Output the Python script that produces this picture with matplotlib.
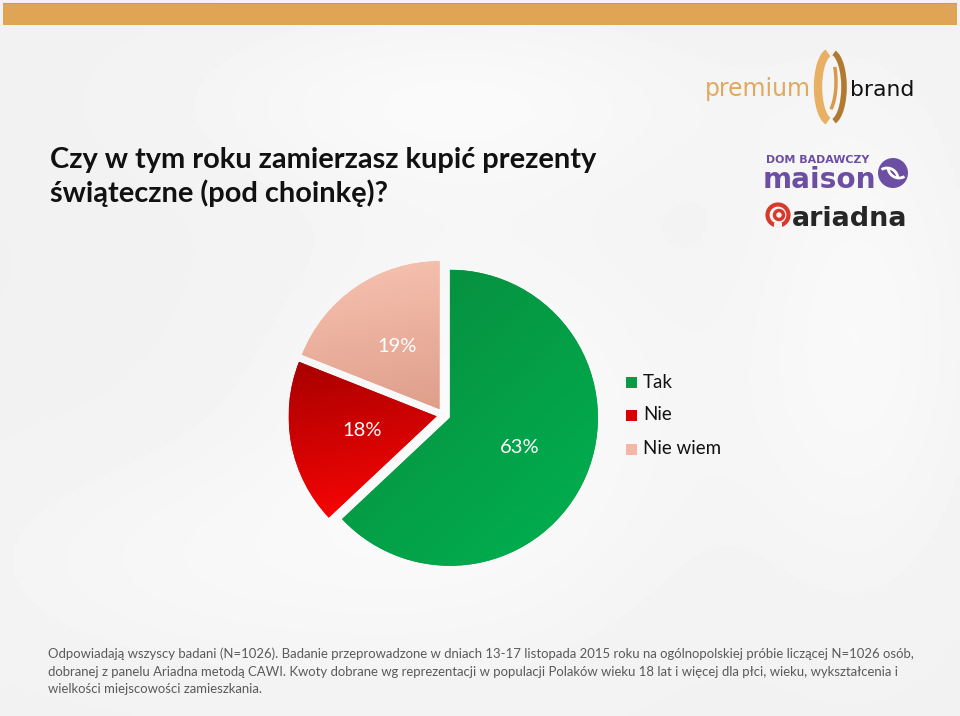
import matplotlib
matplotlib.use('Agg')
import matplotlib.pyplot as plt
import numpy as np
from matplotlib.patches import Rectangle, Circle, Arc
from matplotlib.colors import LinearSegmentedColormap

# ---------------- data ----------------
categories = ['Tak', 'Nie', 'Nie wiem']
values = [63, 18, 19]
title_lines = ['Czy w tym roku zamierzasz kupić prezenty',
               'świąteczne (pod choinkę)?']
footnote_lines = [
    'Odpowiadają wszyscy badani (N=1026). Badanie przeprowadzone w dniach 13-17 listopada 2015 roku na ogólnopolskiej próbie liczącej N=1026 osób,',
    'dobranej z panelu Ariadna metodą CAWI. Kwoty dobrane wg reprezentacji w populacji Polaków wieku 18 lat i więcej dla płci, wieku, wykształcenia i',
    'wielkości miejscowości zamieszkania.',
]

# ---------------- styles ----------------
slice_grads = [('#098a3c', '#00b251', 'diag'),
               ('#a80000', '#ff0505', 'vert'),
               ('#f8c4b2', '#de9e8a', 'vert')]
legend_colors = ['#0c9a45', '#d80000', '#f4b6a6']
FONT = 'Lato'
NARROW = ['Liberation Sans Narrow', 'DejaVu Sans']

W, H = 960, 716
fig = plt.figure(figsize=(9.6, 7.16), dpi=100)
fig.patch.set_facecolor('#f2f2f2')
ax = fig.add_axes([0, 0, 1, 1])
ax.set_facecolor('#f2f2f2')


def Y(y):
    return H - y


renderer = fig.canvas.get_renderer()


def fit_text(x, y, s, target_w, size0=12, **kw):
    t = ax.text(x, Y(y), s, fontsize=size0, **kw)
    w = t.get_window_extent(renderer).width
    t.set_fontsize(size0 * target_w / w)
    return t


# soft background (smooth white glows on light grey)
gx, gy = np.meshgrid(np.arange(0, W, 4), np.arange(0, H, 4))
bg = np.full(gx.shape, 0.945)
for (bx, by, sx, sy, a) in [(450, 100, 260, 90, 0.03), (480, 420, 220, 220, 0.035),
                            (860, 330, 120, 260, 0.03), (200, 560, 260, 120, 0.02)]:
    bg += a * np.exp(-(((gx - bx) / sx) ** 2 + ((gy - by) / sy) ** 2))
bg = np.clip(bg, 0, 1)
ax.imshow(bg, cmap='gray', vmin=0, vmax=1, extent=[0, W, 0, H], origin='upper',
          interpolation='bilinear', aspect='auto', zorder=0)

# top bar
ax.add_patch(Rectangle((3, Y(25)), 954, 22, color='#dfa555', lw=0, zorder=2))
ax.add_patch(Rectangle((3, Y(4)), 954, 1.5, color='#c99a4e', lw=0, zorder=2))

# ---------------- pie ----------------
cx, cy, R = 443.5, Y(415), 148
wedges, texts, autotexts = ax.pie(
    values, startangle=90, counterclock=False, center=(cx, cy), radius=R,
    explode=[7, 7, 7], autopct=lambda p: f'{p:.0f}%', pctdistance=0.51,
    wedgeprops=dict(linewidth=0),
    textprops=dict(color='white', fontsize=14.5, family=FONT))

for w, (c0, c1, mode), lc in zip(wedges, slice_grads, legend_colors):
    w.set_facecolor(lc)
    w.set_zorder(1)
    ext = w.get_path().get_extents()
    n = 256
    u = np.linspace(0, 1, n)[None, :]
    v = np.linspace(0, 1, n)[:, None]
    if mode == 'diag':
        arr = 0.45 * u + 0.55 * v
    else:
        arr = 0.15 * u + 0.85 * v
    arr = arr / arr.max()
    cmap = LinearSegmentedColormap.from_list('g', [c0, c1])
    im = ax.imshow(arr, cmap=cmap, extent=[ext.x0, ext.x1, ext.y0, ext.y1],
                   origin='upper', interpolation='bilinear', aspect='auto', zorder=1.5)
    im.set_clip_path(w)

for t in autotexts:
    t.set_zorder(4)

ax.set_xlim(0, W)
ax.set_ylim(0, H)
ax.set_aspect('auto')
ax.axis('off')

# ---------------- legend ----------------
leg_y = [382, 415, 449]
for lab, col, ly in zip(categories, legend_colors, leg_y):
    ax.add_patch(Rectangle((626, Y(ly) - 5.5), 11, 11, color=col, lw=0, zorder=3))
    ax.text(643, Y(ly), lab, fontsize=13.5, family=FONT, color='#111111',
            va='center', ha='left', zorder=3)

# ---------------- title ----------------
t1 = fit_text(50, 168, title_lines[0], 547, 20, family=FONT, weight='bold',
              color='#111111', va='baseline', ha='left', zorder=3)
ax.text(50, Y(202), title_lines[1], fontsize=t1.get_fontsize(), family=FONT,
        weight='bold', color='#111111', va='baseline', ha='left', zorder=3)

# ---------------- footnote ----------------
f1 = fit_text(48, 658, footnote_lines[0], 867, 10, family=FONT, color='#5a5a5a',
              va='baseline', ha='left', zorder=3)
for line, by in zip(footnote_lines[1:], [675.5, 693]):
    ax.text(48, Y(by), line, fontsize=f1.get_fontsize(), family=FONT, color='#5a5a5a',
            va='baseline', ha='left', zorder=3)

# ---------------- logos ----------------
fit_text(705, 96, 'premium', 106, 20, family=NARROW, color='#e0a95e',
         va='baseline', ha='left', zorder=3)
fit_text(850, 96, 'brand', 64, 20, family=NARROW, color='#111111',
         va='baseline', ha='left', zorder=3)
# ornament
ax.add_patch(Arc((831, Y(87)), 26, 70, theta1=95, theta2=265, lw=6,
                 color='#e8b062', zorder=3))
ax.add_patch(Arc((831, Y(87)), 26, 70, theta1=-85, theta2=85, lw=4,
                 color='#b07a30', zorder=3))
ax.add_patch(Arc((826, Y(82)), 20, 62, theta1=-80, theta2=60, lw=2.5,
                 color='#d89a48', zorder=3))

fit_text(766, 163, 'DOM BADAWCZY', 104, 6, family='DejaVu Sans', weight='bold',
         color='#6c4ea2', va='baseline', ha='left', zorder=3)
fit_text(763, 188, 'maison', 113, 20, family='DejaVu Sans', weight='bold',
         color='#6c4ea2', va='baseline', ha='left', zorder=3)
ax.add_patch(Circle((893, Y(173)), 15, color='#6c4ea2', lw=0, zorder=3))
ax.add_patch(Arc((887, Y(179)), 22, 22, theta1=0, theta2=120, lw=2, color='white', zorder=4))
ax.add_patch(Arc((899, Y(167)), 22, 22, theta1=180, theta2=300, lw=2, color='white', zorder=4))

fit_text(792, 226, 'ariadna', 116, 20, family='DejaVu Sans', weight='bold',
         color='#262626', va='baseline', ha='left', zorder=3)
ax.add_patch(Circle((778, Y(215)), 10.5, fill=False, ec='#d8392b', lw=3, zorder=3))
ax.add_patch(Circle((779, Y(215)), 4.5, fill=False, ec='#d8392b', lw=2.5, zorder=3))
ax.add_patch(Rectangle((774, Y(228)), 8, 5, color='#f2f2f2', lw=0, zorder=3.5))

fig.savefig('out.png', dpi=100, facecolor=fig.get_facecolor())
